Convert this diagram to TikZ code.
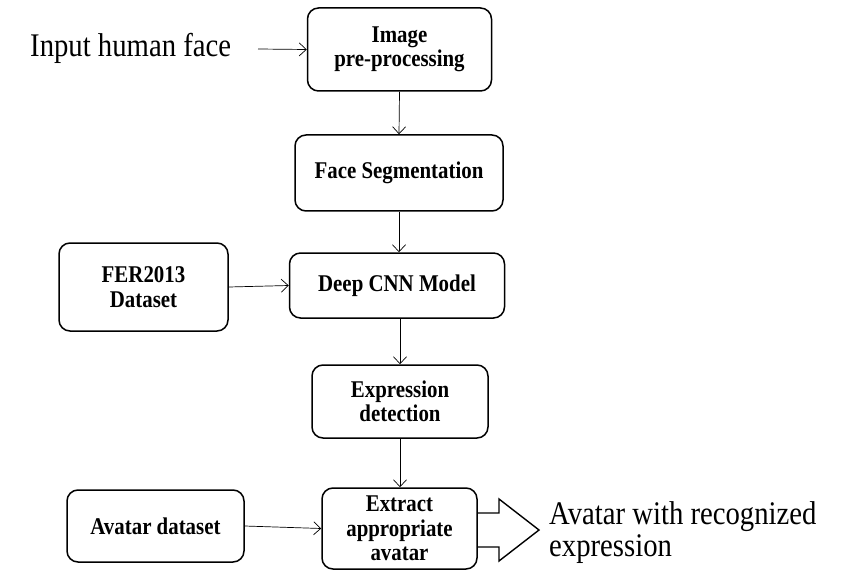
\documentclass[tikz,border=0pt]{standalone}
\usepackage{fontspec}
\setmainfont{Liberation Serif}
\newfontfamily\condfont[FakeStretch=0.87]{Liberation Serif}
\usetikzlibrary{arrows.meta}
\tikzset{
  box/.style={draw, line width=1.5pt, rounded corners=11pt, align=center,
    font=\condfont\fontsize{24}{24.5}\selectfont\bfseries, inner sep=0pt},
  arr/.style={-{Straight Barb[length=7pt,width=13pt]}, line width=0.7pt},
  bigtext/.style={font=\condfont\fontsize{33}{32}\selectfont, inner sep=0pt},
}
\begin{document}
\begin{tikzpicture}[x=1pt,y=-1pt]
\useasboundingbox (0,0) rectangle (843,572);
\node[box, minimum width=184pt, minimum height=83pt] (b1) at (399.5,49.5) {Image\\pre-processing};
\node[box, minimum width=208pt, minimum height=76pt] (b2) at (399,173) {Face Segmentation};
\node[box, minimum width=215pt, minimum height=65pt] (b3) at (397,285.5) {Deep CNN Model};
\node[box, minimum width=169pt, minimum height=88pt] (fer) at (143.5,287) {FER2013\\Dataset};
\node[box, minimum width=176pt, minimum height=73pt] (b4) at (400,401.5) {Expression\\detection};
\node[box, minimum width=155pt, minimum height=81pt] (b5) at (399.5,528.5) {Extract\\appropriate\\avatar};
\node[box, minimum width=177pt, minimum height=72pt] (av) at (155.5,526) {Avatar dataset};
\node[bigtext, anchor=west] (in) at (30,48) {Input human face};
\node[bigtext, anchor=west, align=left] (out) at (549,533) {Avatar with recognized\\expression};
\coordinate (inA) at (258,49);
\draw[arr] (inA) -- (b1.west);
\draw[arr] (b1.south) -- (b2.north);
\draw[arr] (b2.south) -- (b2.south |- b3.north);
\draw[arr] (fer.east) -- (b3.west);
\draw[arr] (b3.south -| b4.south) -- (b4.north);
\draw[arr] (b4.south) -- (b4.south |- b5.north);
\draw[arr] (av.east) -- (b5.west);
\draw[line width=1.4pt, line join=miter] (b5.east |- 0,513) -- (499,513) -- (499,499) -- (539,530) -- (499,561) -- (499,547) -- (b5.east |- 0,547);
\end{tikzpicture}
\end{document}
